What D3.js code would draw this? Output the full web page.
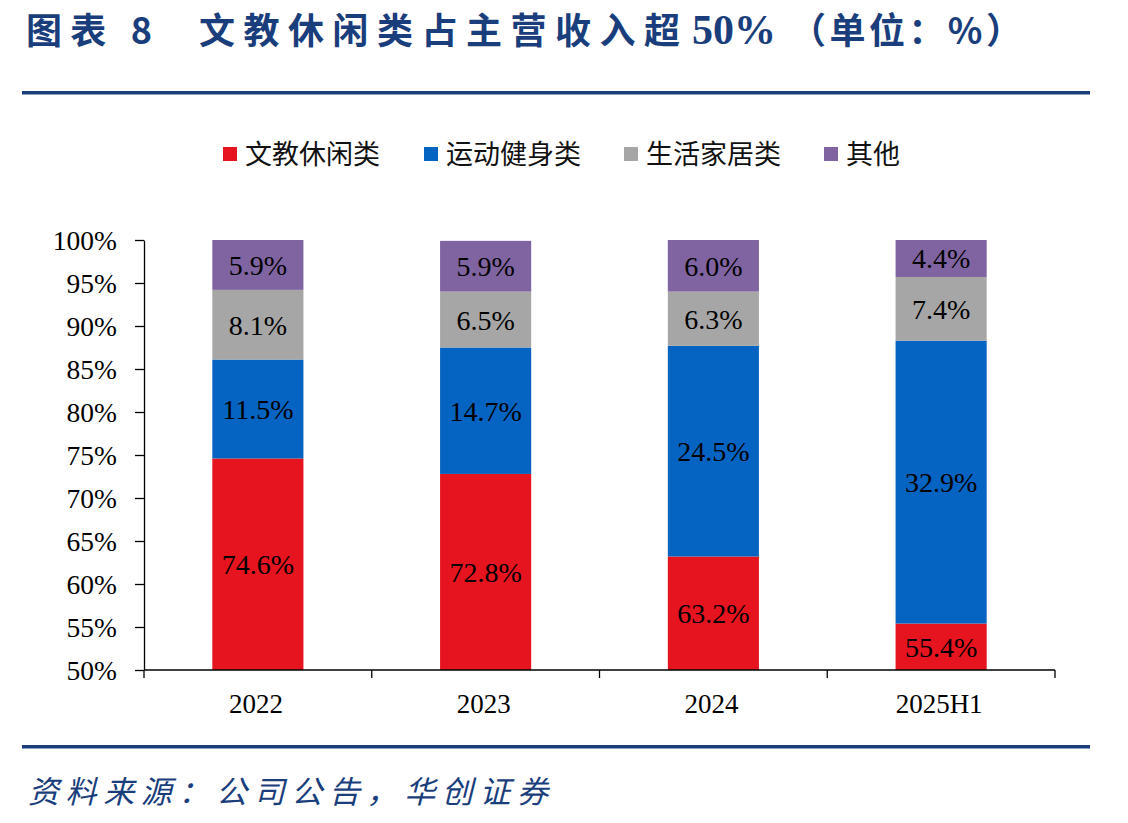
<!DOCTYPE html>
<html>
<head>
<meta charset="utf-8">
<script src="https://cdn.jsdelivr.net/npm/d3@7"></script>
<style>
  body { margin: 0; background: #fff; }
  svg { display: block; }
</style>
</head>
<body>
<div id="chart"></div>
<script>
const categories = ["2022", "2023", "2024", "2025H1"];
const seriesNames = ["文教休闲类", "运动健身类", "生活家居类", "其他"];
const seriesColors = ["#E5141F", "#0563C1", "#A6A6A6", "#8064A2"];
const wenjiao = [74.6, 72.8, 63.2, 55.4];
const yundong = [11.5, 14.7, 24.5, 32.9];
const shenghuo = [8.1, 6.5, 6.3, 7.4];
const qita = [5.9, 5.9, 6.0, 4.4];
const yTicks = [50, 55, 60, 65, 70, 75, 80, 85, 90, 95, 100];

const W = 1128, H = 823;
const navy = "#1A3E7C";
const cjk = "'Noto Sans CJK SC', sans-serif";
const serif = "'Liberation Serif', 'Times New Roman', serif";

const svg = d3.select("#chart").append("svg")
  .attr("width", W).attr("height", H);

// title, split in pieces so the spacing follows the reference
const titleParts = [
  { t: "图表 8", x: 26, len: 126, font: cjk, size: 36 },
  { t: "文教休闲类占主营收入超", x: 199, len: 481, font: cjk, size: 36 },
  { t: "50%", x: 692, len: null, font: serif, size: 42 },
  { t: "（单位：%）", x: 790, len: 232, font: cjk, size: 36 }
];
titleParts.forEach(p => {
  const t = svg.append("text")
    .attr("x", p.x).attr("y", 44)
    .attr("fill", navy).attr("font-family", p.font)
    .attr("font-weight", "bold").attr("font-size", p.size)
    .text(p.t);
  if (p.len) t.attr("textLength", p.len).attr("lengthAdjust", "spacing");
});

svg.append("rect").attr("x", 22).attr("y", 91).attr("width", 1068).attr("height", 3.5).attr("fill", navy);
svg.append("rect").attr("x", 22).attr("y", 745).attr("width", 1068).attr("height", 3.5).attr("fill", navy);

svg.append("text")
  .attr("x", 28).attr("y", 803)
  .attr("fill", navy).attr("font-family", cjk)
  .attr("font-style", "italic").attr("font-size", 31)
  .attr("textLength", 520).attr("lengthAdjust", "spacing")
  .text("资料来源：公司公告，华创证券");

// legend
const legendX = [223, 424, 624, 824];
const legend = svg.append("g");
seriesNames.forEach((s, i) => {
  legend.append("rect")
    .attr("x", legendX[i]).attr("y", 147)
    .attr("width", 14).attr("height", 14)
    .attr("fill", seriesColors[i]);
  legend.append("text")
    .attr("x", legendX[i] + 22).attr("y", 164)
    .attr("font-family", cjk)
    .attr("font-size", 27)
    .attr("fill", "#111")
    .text(s);
});

// chart area
const pL = 144, pR = 1055, pT = 240, pB = 670;
const x = d3.scaleBand().domain(categories).range([pL, pR]).paddingInner(0.6).paddingOuter(0.3);
const xEdge = d3.scaleBand().domain(categories).range([pL, pR]);
const y = d3.scaleLinear().domain([50, 100]).range([pB, pT]).clamp(true);

const rows = categories.map((c, i) => ({
  cat: c, v: [wenjiao[i], yundong[i], shenghuo[i], qita[i]]
}));

const g = svg.append("g");
rows.forEach(r => {
  let base = 0;
  r.v.forEach((v, k) => {
    const y0 = base, y1 = base + v;
    base = y1;
    const yTop = y(Math.min(y1, 100)), yBot = y(Math.max(y0, 50));
    if (yBot - yTop <= 0) return;
    g.append("rect")
      .attr("x", x(r.cat)).attr("width", x.bandwidth())
      .attr("y", yTop).attr("height", yBot - yTop)
      .attr("fill", seriesColors[k]);
    const mid = (Math.max(y0, 50) + Math.min(y1, 100)) / 2;
    g.append("text")
      .attr("x", x(r.cat) + x.bandwidth() / 2)
      .attr("y", y(mid) + 10)
      .attr("text-anchor", "middle")
      .attr("font-family", serif)
      .attr("font-size", 28)
      .attr("fill", "#000")
      .text(v.toFixed(1) + "%");
  });
});

// y axis
const yAxis = svg.append("g")
  .attr("transform", `translate(${pL},0)`)
  .call(d3.axisLeft(y).tickValues(yTicks).tickFormat(d => d + "%").tickSize(9).tickSizeOuter(0));
yAxis.select(".domain").attr("stroke", "#000").attr("stroke-width", 1.3);
yAxis.selectAll(".tick line").attr("stroke", "#000").attr("stroke-width", 1.3);
yAxis.selectAll(".tick text")
  .attr("font-family", serif).attr("font-size", 27.5).attr("fill", "#000")
  .attr("x", -27).attr("dy", "0.35em");

// x axis
const xAxis = svg.append("g").attr("transform", `translate(0,${pB})`);
xAxis.append("line").attr("x1", pL).attr("x2", pR).attr("stroke", "#000").attr("stroke-width", 1.3);
const edges = categories.map(c => xEdge(c)).concat([pR]);
xAxis.selectAll("line.tk").data(edges).join("line")
  .attr("class", "tk")
  .attr("x1", d => d).attr("x2", d => d)
  .attr("y1", 0).attr("y2", 8)
  .attr("stroke", "#000").attr("stroke-width", 1.3);
xAxis.selectAll("text").data(categories).join("text")
  .attr("x", d => x(d) + x.bandwidth() / 2 - 2)
  .attr("y", 43)
  .attr("text-anchor", "middle")
  .attr("font-family", serif).attr("font-size", 27).attr("fill", "#000")
  .text(d => d);
</script>
</body>
</html>
